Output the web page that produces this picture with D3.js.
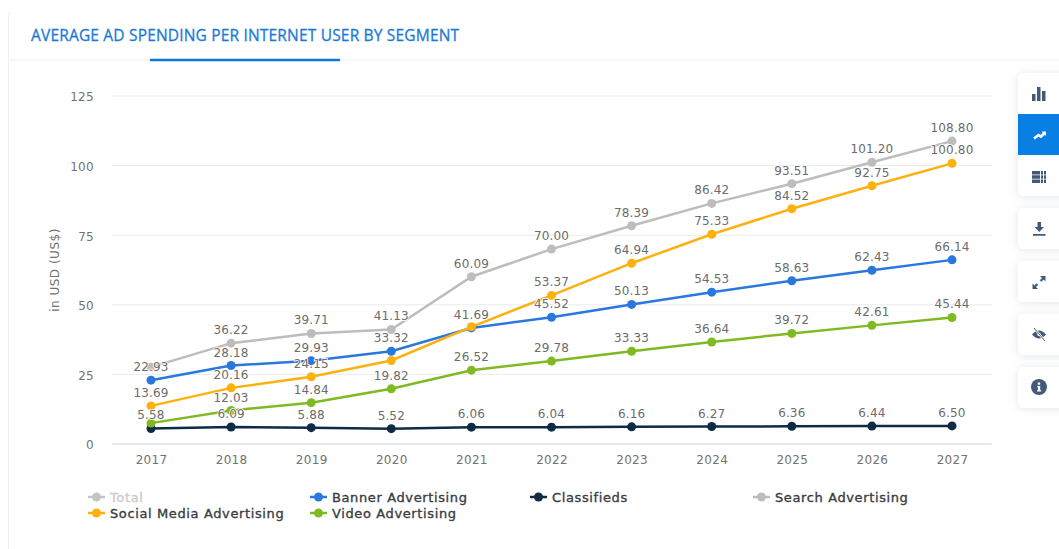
<!DOCTYPE html>
<html>
<head>
<meta charset="utf-8">
<script src="https://cdn.jsdelivr.net/npm/d3@7"></script>
<style>
  html, body { margin: 0; padding: 0; background: #fff; overflow: hidden; }
  text { font-family: "DejaVu Sans", sans-serif; }
</style>
</head>
<body>
<div id="chart"></div>
<script>
const years = [2017, 2018, 2019, 2020, 2021, 2022, 2023, 2024, 2025, 2026, 2027];
const yTicks = [0, 25, 50, 75, 100, 125];

const banner = [22.93, 28.18, 29.93, 33.32, 41.69, 45.52, 50.13, 54.53, 58.63, 62.43, 66.14];
const classifieds = [5.58, 6.09, 5.88, 5.52, 6.06, 6.04, 6.16, 6.27, 6.36, 6.44, 6.50];
const search = [27.6, 36.22, 39.71, 41.13, 60.09, 70.00, 78.39, 86.42, 93.51, 101.20, 108.80];
const social = [13.69, 20.16, 24.15, 30.0, 42.1, 53.37, 64.94, 75.33, 84.52, 92.75, 100.80];
const video = [7.5, 12.03, 14.84, 19.82, 26.52, 29.78, 33.33, 36.64, 39.72, 42.61, 45.44];

// labels the original drops because they collide: series name -> year
const hiddenLabels = [["Search Advertising", 2017], ["Social Media Advertising", 2020],
    ["Social Media Advertising", 2021], ["Video Advertising", 2017]];

const seriesList = [
    {name: "Banner Advertising", values: banner, color: "#2a78de"},
    {name: "Classifieds", values: classifieds, color: "#0f2a45"},
    {name: "Search Advertising", values: search, color: "#bdbdbd"},
    {name: "Social Media Advertising", values: social, color: "#fdb10e"},
    {name: "Video Advertising", values: video, color: "#7fba23"}
];

const legendItems = [
    {name: "Total", color: "#c4c4c4", text: "#cccccc", x: 88, y: 497},
    {name: "Banner Advertising", color: "#2a78de", text: "#3a3d42", x: 310, y: 497},
    {name: "Classifieds", color: "#0f2a45", text: "#3a3d42", x: 530, y: 497},
    {name: "Search Advertising", color: "#bdbdbd", text: "#3a3d42", x: 753, y: 497},
    {name: "Social Media Advertising", color: "#fdb10e", text: "#3a3d42", x: 88, y: 513},
    {name: "Video Advertising", color: "#7fba23", text: "#3a3d42", x: 310, y: 513}
];

const width = 1059, height = 549;

const svg = d3.select("#chart").append("svg")
    .attr("width", width)
    .attr("height", height)
    .style("display", "block");

const defs = svg.append("defs");
const shadow = defs.append("filter").attr("id", "shadow")
    .attr("x", "-40%").attr("y", "-40%").attr("width", "180%").attr("height", "180%");
shadow.append("feDropShadow").attr("dx", 0).attr("dy", 1).attr("stdDeviation", 4)
    .attr("flood-color", "#8a9bb0").attr("flood-opacity", 0.25);

// card frame and header
svg.append("path")
    .attr("d", "M8.5,549V16Q8.5,12 12,12")
    .attr("fill", "none").attr("stroke", "#eef0f3");
svg.append("line")
    .attr("x1", 8).attr("x2", 1059).attr("y1", 60).attr("y2", 60)
    .attr("stroke", "#f3f4f7").attr("stroke-width", 1.5);
svg.append("line")
    .attr("x1", 151).attr("x2", 339).attr("y1", 60).attr("y2", 60)
    .attr("stroke", "#0a77dc").attr("stroke-width", 2.5).attr("stroke-linecap", "round");
svg.append("text")
    .attr("x", 31).attr("y", 41)
    .style("font-family", "'Open Sans', sans-serif")
    .style("font-size", "15.5px")
    .style("letter-spacing", "0.18px")
    .attr("stroke", "#1a7ad6")
    .attr("stroke-width", 0.3)
    .attr("fill", "#1a7ad6")
    .text("AVERAGE AD SPENDING PER INTERNET USER BY SEGMENT");

const x = d3.scalePoint().domain(years).range([151, 952]);
const y = d3.scaleLinear().domain([0, 125]).range([444, 96]);

// grid
svg.append("g").selectAll("line")
    .data(yTicks)
    .join("line")
    .attr("x1", 112).attr("x2", 992)
    .attr("y1", d => y(d)).attr("y2", d => y(d))
    .attr("stroke", d => d === 0 ? "#d9e3f1" : "#e9ebee")
    .attr("stroke-width", d => d === 0 ? 1.5 : 1);

const yAxis = svg.append("g")
    .attr("transform", "translate(112,1)")
    .call(d3.axisLeft(y).tickValues(yTicks).tickSize(0).tickPadding(18));
yAxis.select(".domain").remove();
yAxis.selectAll("text").style("font-size", "12px").style("letter-spacing", "0.3px").attr("fill", "#727272");

const xAxis = svg.append("g")
    .attr("transform", "translate(0,445)")
    .call(d3.axisBottom(x).tickFormat(d3.format("d")).tickSize(0).tickPadding(10));
xAxis.select(".domain").remove();
xAxis.selectAll("text").style("font-size", "12px").style("letter-spacing", "0.3px").attr("fill", "#727272");

svg.append("text")
    .attr("transform", "translate(59,270) rotate(-90)")
    .attr("text-anchor", "middle")
    .style("font-size", "12px")
    .style("letter-spacing", "0.5px")
    .attr("fill", "#727272")
    .text("in USD (US$)");

// lines and points
const line = d3.line()
    .x((d, i) => x(years[i]))
    .y(d => y(d));

seriesList.forEach(s => {
    const g = svg.append("g");
    g.append("path")
        .attr("d", line(s.values))
        .attr("fill", "none")
        .attr("stroke", s.color)
        .attr("stroke-width", 2.5);
    g.selectAll("circle")
        .data(s.values)
        .join("circle")
        .attr("cx", (d, i) => x(years[i]))
        .attr("cy", d => y(d))
        .attr("r", 4.5)
        .attr("fill", s.color);
});

// data labels go on top of every series
seriesList.forEach(s => {
    const rows = s.values
        .map((v, i) => ({v: v, year: years[i]}))
        .filter(d => !hiddenLabels.some(h => h[0] === s.name && h[1] === d.year));
    svg.append("g").selectAll("text")
        .data(rows)
        .join("text")
        .attr("x", d => x(d.year))
        .attr("y", d => y(d.v) - 9)
        .attr("text-anchor", "middle")
        .style("font-size", "12px")
        .style("letter-spacing", "0.15px")
        .style("paint-order", "stroke")
        .attr("stroke", "#fff")
        .attr("stroke-width", 1.5)
        .attr("fill", "#6c6c6c")
        .text(d => d3.format(".2f")(d.v));
});

// legend
const legend = svg.append("g").selectAll("g")
    .data(legendItems)
    .join("g")
    .attr("transform", d => `translate(${d.x},${d.y})`);
legend.append("line")
    .attr("x1", 0).attr("x2", 17)
    .attr("stroke", d => d.color).attr("stroke-width", 2.5);
legend.append("circle")
    .attr("cx", 8.5).attr("r", 4.5)
    .attr("fill", d => d.color);
legend.append("text")
    .attr("x", 22).attr("y", 4.5)
    .style("font-size", "13px")
    .style("letter-spacing", "0.62px")
    .attr("stroke", d => d.text)
    .attr("stroke-width", 0.35)
    .attr("fill", d => d.text)
    .text(d => d.name);

// right hand toolbar
const panels = [[73, 123], [208, 41], [261, 41], [314, 41], [367, 41]];
svg.append("g").selectAll("rect")
    .data(panels)
    .join("rect")
    .attr("x", 1018).attr("y", d => d[0])
    .attr("width", 60).attr("height", d => d[1])
    .attr("rx", 5)
    .attr("fill", "#fff")
    .attr("filter", "url(#shadow)");
svg.append("rect")
    .attr("x", 1018).attr("y", 114).attr("width", 41).attr("height", 41)
    .attr("fill", "#0a7fe3");

const icon = "#43597a";
const tools = svg.append("g");
// bars
tools.append("path").attr("fill", icon)
    .attr("d", "M1032,94h3.5v7h-3.5zM1037,87h3.5v14h-3.5zM1042,91h3.5v10h-3.5z");
// trend
tools.append("path").attr("fill", "none").attr("stroke", "#fff").attr("stroke-width", 2.6)
    .attr("d", "M1034,138.5L1038.5,135L1041,136.5L1044.5,133");
tools.append("path").attr("fill", "#fff").attr("d", "M1041.5,131.5h4.5v4.5z");
// table
tools.append("path").attr("fill", icon)
    .attr("d", "M1032,171h8v3.4h-8zM1041,171h2v3.4h-2zM1044,171h2v3.4h-2zM1032,175.3h8v3.4h-8zM1041,175.3h2v3.4h-2zM1044,175.3h2v3.4h-2zM1032,179.6h8v3.4h-8zM1041,179.6h2v3.4h-2zM1044,179.6h2v3.4h-2z");
// download
tools.append("path").attr("fill", icon)
    .attr("d", "M1037.5,222h3.5v5h3l-4.7,5l-4.7,-5h2.9zM1033,234h12.5v1.8h-12.5z");
// expand
tools.append("path").attr("fill", icon)
    .attr("d", "M1040,276h5.5v5.5l-1.9,-1.9l-2.2,2.2l-1.6,-1.6l2.2,-2.2zM1038,289h-5.5v-5.5l1.9,1.9l2.2,-2.2l1.6,1.6l-2.2,2.2z");
// hidden eye
tools.append("path").attr("fill", icon)
    .attr("d", "M1032,334.5Q1039,326.5 1046,334.5Q1039,342.5 1032,334.5z");
tools.append("circle").attr("cx", 1039).attr("cy", 334.5).attr("r", 1.6).attr("fill", "#fff");
tools.append("line").attr("x1", 1034).attr("y1", 328).attr("x2", 1045).attr("y2", 341)
    .attr("stroke", "#fff").attr("stroke-width", 2.2);
tools.append("line").attr("x1", 1034).attr("y1", 328).attr("x2", 1045).attr("y2", 341)
    .attr("stroke", icon).attr("stroke-width", 1);
// info
tools.append("circle").attr("cx", 1039).attr("cy", 387).attr("r", 8).attr("fill", icon);
tools.append("path").attr("fill", "#fff")
    .attr("d", "M1037.8,382.5h2.4v2.2h-2.4zM1037.2,386h3v4.2h1v1.3h-4.2v-1.3h1v-2.9h-0.8z");
</script>
</body>
</html>
